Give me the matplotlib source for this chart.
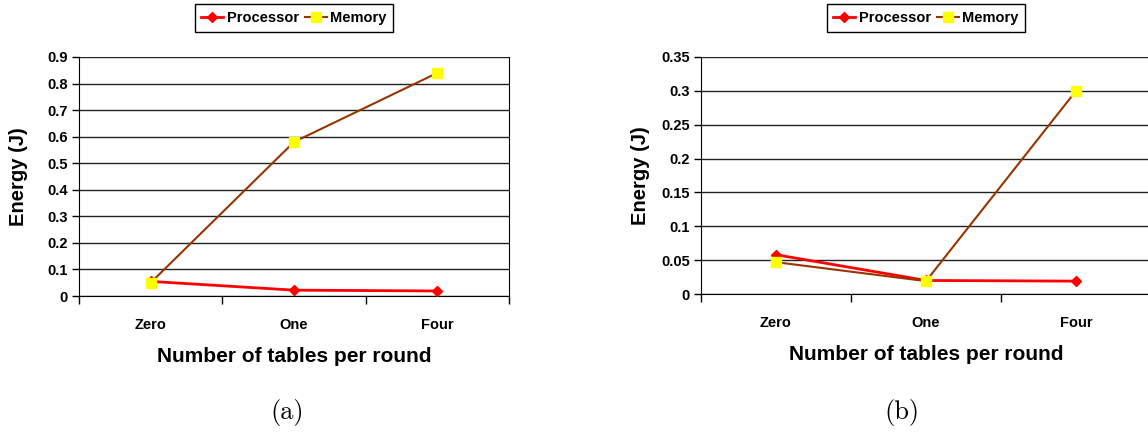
import matplotlib.pyplot as plt

plt.rcParams['font.family'] = 'Liberation Sans'
plt.rcParams['font.weight'] = 'bold'

categories = ['Zero', 'One', 'Four']

# energy per component, panel (a)
proc_a = [0.055, 0.022, 0.019]
mem_a = [0.050, 0.580, 0.840]
yticks_a = [0, 0.1, 0.2, 0.3, 0.4, 0.5, 0.6, 0.7, 0.8, 0.9]

# energy per component, panel (b)
proc_b = [0.058, 0.020, 0.019]
mem_b = [0.047, 0.019, 0.300]
yticks_b = [0, 0.05, 0.1, 0.15, 0.2, 0.25, 0.3, 0.35]

W, H = 1148, 433
fig = plt.figure(figsize=(W / 100, H / 100), dpi=100)


def panel(rect, proc, mem, yticks, ylabels, legend_x, right_spine=True, ylabelpad=8):
    ax = fig.add_axes(rect)
    x = range(len(categories))
    ax.plot(x, proc, color='#ff0000', lw=2, marker='D', ms=5,
            mfc='#ff0000', mec='#ff0000', label='Processor', zorder=3)
    ax.plot(x, mem, color='#993300', lw=1.5, marker='s', ms=7,
            mfc='#ffff00', mec='#ffff00', label='Memory', zorder=4)
    ax.set_xlim(-0.5, len(categories) - 0.5)
    ax.set_ylim(yticks[0], yticks[-1])
    ax.set_yticks(yticks)
    ax.set_yticklabels(ylabels, fontsize=10.5, fontweight='bold')
    ax.set_xticks(list(x))
    ax.set_xticklabels(categories, fontsize=10.5, fontweight='bold')
    ax.tick_params(axis='x', which='major', length=0, pad=16)
    ax.set_xticks([i - 0.5 for i in range(len(categories) + 1)], minor=True)
    ax.tick_params(axis='x', which='minor', length=6, width=1, direction='out')
    ax.tick_params(axis='y', length=5, width=1, direction='out', pad=3)
    ax.grid(axis='y', color='#222222', lw=1)
    ax.set_axisbelow(True)
    ax.spines['top'].set_visible(False)
    ax.spines['right'].set_visible(right_spine)
    ax.set_xlabel('Number of tables per round', fontsize=15, fontweight='bold', labelpad=11)
    ax.set_ylabel('Energy (J)', fontsize=14.5, fontweight='bold', labelpad=ylabelpad)
    h, l = ax.get_legend_handles_labels()
    fig.legend(h, l, loc='center', bbox_to_anchor=(legend_x, 1 - 18 / H), ncol=2,
               frameon=True, fancybox=False, edgecolor='black', framealpha=1,
               handlelength=1.5, handletextpad=0.25, columnspacing=0.4,
               borderpad=0.45, borderaxespad=0,
               prop={'weight': 'bold', 'size': 10.5})
    return ax


panel([79 / W, 1 - 296 / H, 430 / W, 239 / H], proc_a, mem_a, yticks_a,
      ['0', '0.1', '0.2', '0.3', '0.4', '0.5', '0.6', '0.7', '0.8', '0.9'],
      294 / W, ylabelpad=14)
panel([701 / W, 1 - 294 / H, 450 / W, 237 / H], proc_b, mem_b, yticks_b,
      ['0', '0.05', '0.1', '0.15', '0.2', '0.25', '0.3', '0.35'],
      926 / W, right_spine=False, ylabelpad=8)

fig.text(287 / W, 1 - 413 / H, '(a)', family='cmr10', fontsize=19,
         ha='center', va='center', fontweight='normal')
fig.text(902 / W, 1 - 413 / H, '(b)', family='cmr10', fontsize=19,
         ha='center', va='center', fontweight='normal')

fig.savefig('out.png', dpi=100)
